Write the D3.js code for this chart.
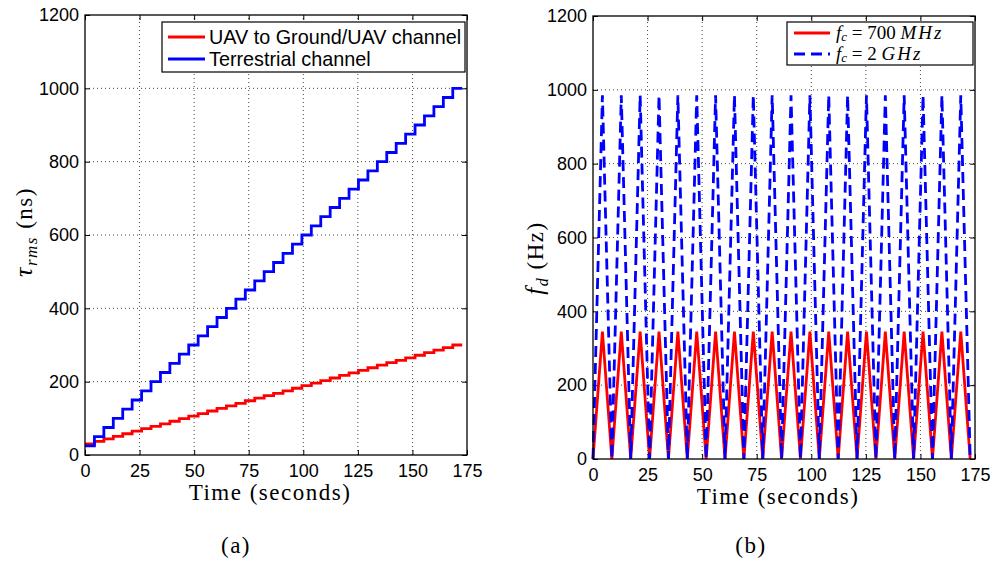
<!DOCTYPE html>
<html>
<head>
<meta charset="utf-8">
<script src="https://cdn.jsdelivr.net/npm/d3@7"></script>
<style>
  body { margin: 0; background: #fff; }
  svg text { fill: #000; }
  .axis-label { font-family: "Liberation Serif", "DejaVu Serif", serif; font-size: 23px; letter-spacing: 1.5px; }
  .grid { stroke: #444; stroke-width: 1; stroke-dasharray: 1,3; }
</style>
</head>
<body>
<svg id="chart" width="995" height="563"></svg>
<script>
// step boundaries in seconds (shared by both panels)
const stepTimes = [0, 4.32, 8.64, 12.96, 17.28, 21.6, 25.92, 30.24, 34.56, 38.88, 43.2,
  47.52, 51.84, 56.16, 60.48, 64.8, 69.12, 73.44, 77.76, 82.08, 86.4, 90.72, 95.04,
  99.36, 103.68, 108, 112.32, 116.64, 120.96, 125.28, 129.6, 133.92, 138.24, 142.56,
  146.88, 151.2, 155.52, 159.84, 164.16, 168.48, 172.8];

// (a) delay spread levels, one per step (ns)
const uavTau = [30, 37, 44, 51, 58, 65, 72, 78, 85, 92, 99, 106, 113, 120, 127, 134, 141,
  148, 155, 162, 168, 175, 182, 189, 196, 203, 210, 217, 224, 231, 238, 245, 252, 258,
  265, 272, 279, 286, 293, 300];
const terrTau = [25, 50, 75, 100, 125, 150, 175, 200, 225, 250, 275, 300, 325, 350, 375,
  400, 425, 450, 475, 500, 525, 550, 575, 600, 625, 650, 675, 700, 725, 750, 775, 800,
  825, 850, 875, 900, 925, 950, 975, 1000];

// (b) doppler at each step boundary (Hz)
const fd700 = [0, 345, 0, 345, 0, 345, 0, 345, 0, 345, 0, 345, 0, 345, 0, 345, 0, 345, 0,
  345, 0, 345, 0, 345, 0, 345, 0, 345, 0, 345, 0, 345, 0, 345, 0, 345, 0, 345, 0, 345, 0];
const fd2000 = [0, 985, 0, 985, 0, 985, 0, 985, 0, 985, 0, 985, 0, 985, 0, 985, 0, 985, 0,
  985, 0, 985, 0, 985, 0, 985, 0, 985, 0, 985, 0, 985, 0, 985, 0, 985, 0, 985, 0, 985, 0];

const xTicks = [0, 25, 50, 75, 100, 125, 150, 175];
const yTicks = [0, 200, 400, 600, 800, 1000, 1200];

const sans = "'Liberation Sans', Arial, Helvetica, sans-serif";
const serif = "'Liberation Serif', 'DejaVu Serif', serif";
const svg = d3.select("#chart");

function makePanel(box) {
  const g = svg.append("g");
  const x = d3.scaleLinear().domain([0, 175]).range([box.x0, box.x1]);
  const y = d3.scaleLinear().domain([0, 1200]).range([box.y0, box.y1]);

  // grid
  g.selectAll(".gx").data(xTicks.slice(1, -1)).enter().append("line")
    .attr("class", "grid").attr("x1", d => x(d)).attr("x2", d => x(d))
    .attr("y1", box.y0).attr("y2", box.y1);
  g.selectAll(".gy").data(yTicks.slice(1, -1)).enter().append("line")
    .attr("class", "grid").attr("y1", d => y(d)).attr("y2", d => y(d))
    .attr("x1", box.x0).attr("x2", box.x1);

  // axes with inward ticks on all four sides
  const tl = 5, fmt = d3.format("d");
  g.append("g").attr("transform", `translate(0,${box.y0})`)
    .call(d3.axisBottom(x).tickValues(xTicks).tickSize(-tl).tickPadding(9).tickFormat(fmt));
  g.append("g").attr("transform", `translate(0,${box.y1})`)
    .call(d3.axisTop(x).tickValues(xTicks).tickSize(-tl).tickFormat(""));
  g.append("g").attr("transform", `translate(${box.x0},0)`)
    .call(d3.axisLeft(y).tickValues(yTicks).tickSize(-tl).tickPadding(6).tickFormat(fmt));
  g.append("g").attr("transform", `translate(${box.x1},0)`)
    .call(d3.axisRight(y).tickValues(yTicks).tickSize(-tl).tickFormat(""));
  g.selectAll(".domain").remove();
  g.selectAll(".tick line").attr("stroke", "#000");
  g.selectAll(".tick text").style("font-family", sans).style("font-size", "18px").attr("fill", "#000");

  const plot = g.append("g");
  g.append("rect").attr("x", box.x0).attr("y", box.y1)
    .attr("width", box.x1 - box.x0).attr("height", box.y0 - box.y1)
    .attr("fill", "none").attr("stroke", "#000").attr("stroke-width", 1.3);
  return { g, plot, x, y };
}

// ---------- (a) ----------
const A = makePanel({ x0: 85, x1: 467, y0: 455, y1: 15 });
const stepLine = d3.line().x(d => A.x(d[0])).y(d => A.y(d[1])).curve(d3.curveStepAfter);
const stepPts = vals => vals.map((v, i) => [stepTimes[i], v]).concat([[stepTimes[vals.length], vals[vals.length - 1]]]);

A.plot.append("path").datum(stepPts(uavTau)).attr("d", stepLine)
  .attr("fill", "none").attr("stroke", "#ff0000").attr("stroke-width", 2.8);
A.plot.append("path").datum(stepPts(terrTau)).attr("d", stepLine)
  .attr("fill", "none").attr("stroke", "#0000ff").attr("stroke-width", 2.8);

// legend (a)
const legA = A.g.append("g");
legA.append("rect").attr("x", 162).attr("y", 22).attr("width", 303).attr("height", 50)
  .attr("fill", "#fff").attr("stroke", "#000").attr("stroke-width", 1.2);
[["UAV to Ground/UAV channel", "#ff0000", 37], ["Terrestrial channel", "#0000ff", 59]].forEach(([t, c, yy]) => {
  legA.append("line").attr("x1", 168).attr("x2", 205).attr("y1", yy).attr("y2", yy)
    .attr("stroke", c).attr("stroke-width", 2.8);
  legA.append("text").attr("x", 209).attr("y", yy + 7)
    .style("font-family", sans).style("font-size", "19.8px").text(t);
});

A.g.append("text").attr("class", "axis-label").attr("x", 270).attr("y", 500)
  .attr("text-anchor", "middle").text("Time (seconds)");
const yLabA = A.g.append("text").attr("class", "axis-label")
  .attr("transform", "translate(32,232) rotate(-90)").attr("text-anchor", "middle");
yLabA.append("tspan").style("font-style", "italic").style("font-size", "26px").text("τ");
yLabA.append("tspan").style("font-style", "italic").style("font-size", "17px").attr("dy", 5).text("rms");
yLabA.append("tspan").attr("dy", -5).text(" (ns)");
A.g.append("text").attr("class", "axis-label").attr("x", 236).attr("y", 553)
  .attr("text-anchor", "middle").text("(a)");

// ---------- (b) ----------
const B = makePanel({ x0: 593, x1: 975, y0: 459, y1: 16 });
const triLine = d3.line().x((d, i) => B.x(stepTimes[i])).y(d => B.y(d));

B.plot.append("path").datum(fd700).attr("d", triLine)
  .attr("fill", "none").attr("stroke", "#ff0000").attr("stroke-width", 2.8);
B.plot.append("path").datum(fd2000).attr("d", triLine)
  .attr("fill", "none").attr("stroke", "#0000ff").attr("stroke-width", 2.8)
  .attr("stroke-dasharray", "11,6");

// legend (b)
const legB = B.g.append("g");
legB.append("rect").attr("x", 787).attr("y", 22).attr("width", 186).attr("height", 43)
  .attr("fill", "#fff").attr("stroke", "#000").attr("stroke-width", 1.2);
[["700", "M", "#ff0000", 33, null], ["2", "G", "#0000ff", 54, "11,6"]].forEach(([num, pre, c, yy, dash]) => {
  legB.append("line").attr("x1", 794).attr("x2", 830).attr("y1", yy).attr("y2", yy)
    .attr("stroke", c).attr("stroke-width", 2.8).attr("stroke-dasharray", dash);
  const t = legB.append("text").attr("x", 836).attr("y", yy + 6).attr("xml:space", "preserve")
    .style("font-family", serif).style("font-size", "19px").style("white-space", "pre");
  t.append("tspan").style("font-style", "italic").text("f");
  t.append("tspan").style("font-style", "italic").style("font-size", "13px").attr("dy", 2).text("c");
  t.append("tspan").attr("dy", -2).text(" = " + num + " ");
  t.append("tspan").style("font-style", "italic").style("letter-spacing", "2px").text(pre + "Hz");
});

B.g.append("text").attr("class", "axis-label").attr("x", 778).attr("y", 504)
  .attr("text-anchor", "middle").text("Time (seconds)");
const yLabB = B.g.append("text").attr("class", "axis-label")
  .attr("transform", "translate(543,258) rotate(-90)").attr("text-anchor", "middle");
yLabB.append("tspan").style("font-style", "italic").style("font-size", "25px").text("f");
yLabB.append("tspan").style("font-style", "italic").style("font-size", "16px").attr("dy", 5).text("d");
yLabB.append("tspan").attr("dy", -5).text(" (Hz)");
B.g.append("text").attr("class", "axis-label").attr("x", 751).attr("y", 553)
  .attr("text-anchor", "middle").text("(b)");
</script>
</body>
</html>
